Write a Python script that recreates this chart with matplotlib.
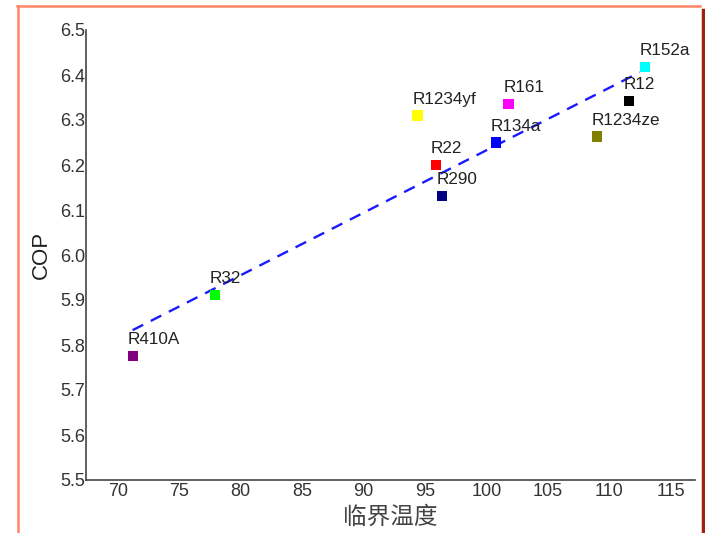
import matplotlib
matplotlib.use("Agg")
import matplotlib.pyplot as plt
from matplotlib.lines import Line2D

# ---- data ----
refrigerants = ["R410A", "R32", "R1234yf", "R22", "R290", "R134a", "R161", "R1234ze", "R12", "R152a"]
crit_temp = [71.2, 77.9, 94.4, 95.9, 96.4, 100.8, 101.8, 109.0, 111.6, 112.9]
cop = [5.776, 5.911, 6.310, 6.200, 6.131, 6.250, 6.335, 6.263, 6.342, 6.418]
colors = ["#800080", "#00FF00", "#FFFF00", "#FF0000", "#000080", "#0000FF", "#FF00FF", "#808000", "#000000", "#00FFFF"]
fit_x = [71.2, 112.5]
fit_y = [5.833, 6.406]
x_ticks = [70, 75, 80, 85, 90, 95, 100, 105, 110, 115]
y_ticks = [5.5, 5.6, 5.7, 5.8, 5.9, 6.0, 6.1, 6.2, 6.3, 6.4, 6.5]

plt.rcParams['font.family'] = ['Liberation Sans', 'Noto Sans CJK SC', 'DejaVu Sans']

fig = plt.figure(figsize=(7.05, 5.33), dpi=100)
ax = fig.add_axes([86/705, 53/533, (695-86)/705, (480-30)/533])

ax.plot(fit_x, fit_y, color="#1a1aff", lw=1.7, linestyle=(0, (5, 3.6)), zorder=2)
ax.scatter(crit_temp, cop, marker="s", s=55, c=colors, edgecolors="none", zorder=3)
for name, x, y in zip(refrigerants, crit_temp, cop):
    ax.annotate(name, (x, y), xytext=(-3.6, 8.6), textcoords="offset points",
                ha="left", va="baseline", fontsize=12.3, color="#222222", zorder=4)

ax.set_xlim(67.4, 117.0)
ax.set_ylim(5.5, 6.5)
ax.set_xticks(x_ticks)
ax.set_yticks(y_ticks)
ax.set_yticklabels([f"{v:.1f}" for v in y_ticks])
ax.tick_params(axis="both", length=0, labelsize=13, labelcolor="#333333")
ax.tick_params(axis="y", pad=0.5)
ax.tick_params(axis="x", pad=2.5)
for s in ["top", "right"]:
    ax.spines[s].set_visible(False)
for s in ["left", "bottom"]:
    ax.spines[s].set_color("#444444")
    ax.spines[s].set_linewidth(1.2)

ax.set_ylabel("COP", fontsize=16, color="#222222", labelpad=6)
ax.set_xlabel("临界温度", fontsize=17, color="#444444", labelpad=4,
              family=["Noto Sans CJK SC", "DejaVu Sans"])

# page frame lines
fig.add_artist(Line2D([17/705, 700/705], [527/533, 527/533], transform=fig.transFigure,
                      color="#FF8566", lw=1.8))
fig.add_artist(Line2D([18/705, 18/705], [527/533, 0], transform=fig.transFigure,
                      color="#FF8566", lw=1.8))
fig.add_artist(Line2D([703/705, 703/705], [523/533, 0], transform=fig.transFigure,
                      color="#A02010", lw=2.5))

fig.savefig("out.png", dpi=100)
